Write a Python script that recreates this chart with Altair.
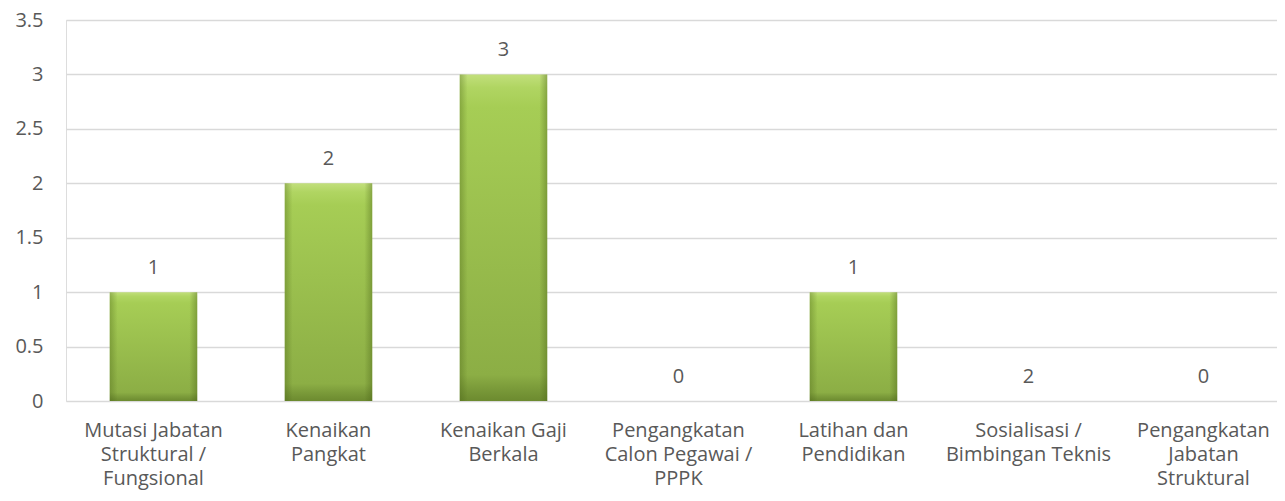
import altair as alt
import pandas as pd

categories = [
    "Mutasi Jabatan\nStruktural /\nFungsional",
    "Kenaikan\nPangkat",
    "Kenaikan Gaji\nBerkala",
    "Pengangkatan\nCalon Pegawai /\nPPPK",
    "Latihan dan\nPendidikan",
    "Sosialisasi /\nBimbingan Teknis",
    "Pengangkatan\nJabatan\nStruktural",
]
values = [1, 2, 3, 0, 1, 0, 0]
value_labels = ["1", "2", "3", "0", "1", "2", "0"]
y_ticks = [0, 0.5, 1, 1.5, 2, 2.5, 3, 3.5]

df = pd.DataFrame({"cat": categories, "val": values, "lab": value_labels})

FONT = "Open Sans"
TXT = "#595959"
FS = 20

x_enc = alt.X(
    "cat:N",
    sort=categories,
    title=None,
    scale=alt.Scale(paddingInner=0.5, paddingOuter=0.21, align=0.595),
    axis=alt.Axis(
        labelExpr="split(datum.label, '\\n')",
        labelAngle=0,
        labelFont=FONT,
        labelFontSize=FS,
        labelColor=TXT,
        labelLineHeight=24,
        labelPadding=19,
        labelLimit=400,
        ticks=False,
        domain=False,
        grid=False,
        labelBaseline="top",
    ),
)
y_scale = alt.Scale(domain=[0, 3.5], nice=False)

bar_fill = alt.Gradient(
    gradient="linear",
    x1=0, x2=0, y1=0, y2=1,
    stops=[
        alt.GradientStop(color="#c2df7c", offset=0),
        alt.GradientStop(color="#b0d562", offset=0.04),
        alt.GradientStop(color="#a6cd55", offset=0.1),
        alt.GradientStop(color="#8cae45", offset=0.92),
        alt.GradientStop(color="#7b9b3a", offset=0.96),
        alt.GradientStop(color="#6c8a2f", offset=1),
    ],
)
side_shade = alt.Gradient(
    gradient="linear",
    x1=0, x2=1, y1=0, y2=0,
    stops=[
        alt.GradientStop(color="rgba(70,95,20,0.35)", offset=0),
        alt.GradientStop(color="rgba(70,95,20,0)", offset=0.09),
        alt.GradientStop(color="rgba(70,95,20,0)", offset=0.91),
        alt.GradientStop(color="rgba(70,95,20,0.4)", offset=1),
    ],
)

bars = alt.Chart(df).mark_bar(fill=bar_fill).encode(
    x=x_enc,
    y=alt.Y(
        "val:Q",
        scale=y_scale,
        title=None,
        axis=alt.Axis(
            values=y_ticks,
            labelFont=FONT,
            labelFontSize=FS,
            labelColor=TXT,
            labelPadding=23,
            ticks=False,
            domain=False,
            grid=True,
            gridColor="#d9d9d9",
            gridWidth=1.5,
            labelExpr="datum.value",
        ),
    ),
)

shade = alt.Chart(df).mark_bar(fill=side_shade).encode(
    x=alt.X("cat:N", sort=categories),
    y=alt.Y("val:Q", scale=y_scale),
)

texts = alt.Chart(df).mark_text(
    font=FONT, fontSize=FS, color=TXT, baseline="middle", dy=-24
).encode(
    x=alt.X("cat:N", sort=categories),
    y=alt.Y("val:Q", scale=y_scale),
    text="lab:N",
)

chart = (
    alt.layer(bars, shade, texts)
    .properties(
        width=1211,
        height=381,
        autosize=alt.AutoSizeParams(type="none"),
        padding={"left": 58, "top": 12, "right": 0, "bottom": 92},
    )
    .configure_view(stroke=None)
    .configure(background="white")
)

chart.save("out.html", embed_options={"renderer": "svg", "actions": False})
